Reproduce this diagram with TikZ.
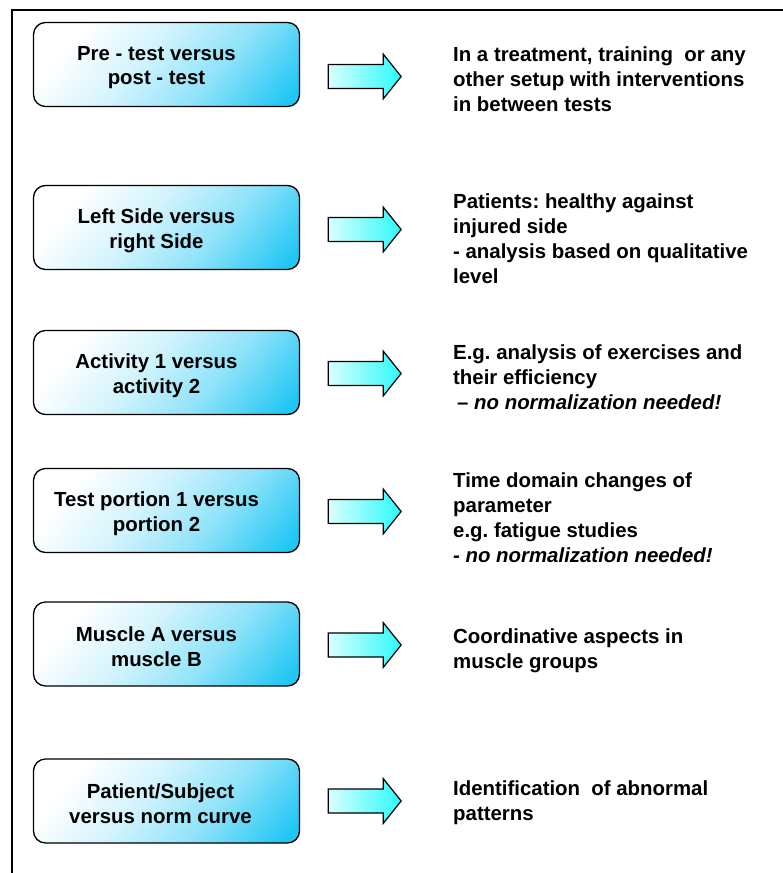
\documentclass[tikz,border=0pt]{standalone}
\usepackage{fontspec}
\setmainfont{Liberation Sans}
\frenchspacing
\usetikzlibrary{positioning,calc}

\definecolor{boxblue}{RGB}{32,198,244}
\definecolor{arrowcyan}{RGB}{45,250,250}

% white top-left, blue bottom-right
\pgfdeclarehorizontalshading{boxshade}{100bp}{color(0bp)=(white); color(26bp)=(white);
  color(44bp)=(boxblue!20); color(62bp)=(boxblue!50); color(82bp)=(boxblue); color(100bp)=(boxblue)}

\tikzset{
  cmpbox/.style={draw=black, line width=1.3pt, rounded corners=12pt,
    minimum width=266pt, minimum height=84pt,
    shade, shading=boxshade, shading angle=-40},
  boxlabel/.style={align=center, inner sep=0pt,
    font=\bfseries\fontsize{20.4}{24.7}\selectfont},
  usetext/.style={align=left, anchor=north west, inner sep=0pt,
    font=\bfseries\fontsize{20.4}{24.7}\selectfont},
  blockarrow/.style={draw=black, line width=1.2pt, line join=miter,
    left color=arrowcyan!18, right color=arrowcyan}
}

\begin{document}
\begin{tikzpicture}[x=1pt, y=-1pt]
\useasboundingbox (0,0) rectangle (783,873);

% Frame (open to the right and bottom)
\draw[line width=1.3pt] (12,873) -- (12,10) -- (783,10);

% Comparison boxes
\node[cmpbox] (b1) at (166.5,64.5) {};
\node[cmpbox] (b2) at (166.5,227.5) {};
\node[cmpbox] (b3) at (166.5,372.5) {};
\node[cmpbox] (b4) at (166.5,510.5) {};
\node[cmpbox] (b5) at (166.5,644) {};
\node[cmpbox] (b6) at (166.5,801) {};

\node[boxlabel] (l1) at ([shift={(-10,3)}]b1.center) {Pre - test versus\\post - test};
\node[boxlabel] (l2) at ([shift={(-10,3)}]b2.center) {Left Side versus\\right Side};
\node[boxlabel] (l3) at ([shift={(-10,3)}]b3.center) {Activity 1 versus\\activity 2};
\node[boxlabel] (l4) at ([shift={(-10,3)}]b4.center) {Test portion 1 versus\\portion 2};
\node[boxlabel] (l5) at ([shift={(-10,3)}]b5.center) {Muscle A versus\\muscle B};
\node[boxlabel] (l6) at ([shift={(-6,3)}]b6.center) {Patient/Subject\\versus norm curve};

% Use cases
\node[usetext] (t1) at (453,47) {In a treatment, training~ or any\\other setup with interventions\\in between tests};
\node[usetext] (t2) at (453,194) {Patients: healthy against\\injured side\\- analysis based on qualitative\\level};
\node[usetext] (t3) at (453,345) {E.g. analysis of exercises and\\their efficiency\\\hspace*{4pt}-- \textit{no normalization needed!}};
\node[usetext] (t4) at (453,473) {Time domain changes of\\parameter\\e.g. fatigue studies\\\textit{- no normalization needed!}};
\node[usetext] (t5) at (453,629) {Coordinative aspects in\\muscle groups};
\node[usetext] (t6) at (453,781) {Identification~ of abnormal\\patterns};

% Block arrows from box to use case
\foreach \n/\dy in {1/12,2/2,3/1,4/1,5/1,6/0}{
  \coordinate (a\n) at ([shift={(28,\dy)}]b\n.east);
  \draw[blockarrow] ($(a\n)+(0,-12)$) -- ++(55,0) -- ++(0,-10.5)
    -- ($(a\n)+(73,0)$) -- ++(-18,22.5) -- ++(0,-10.5)
    -- ($(a\n)+(0,12)$) -- cycle;
}
\end{tikzpicture}
\end{document}
